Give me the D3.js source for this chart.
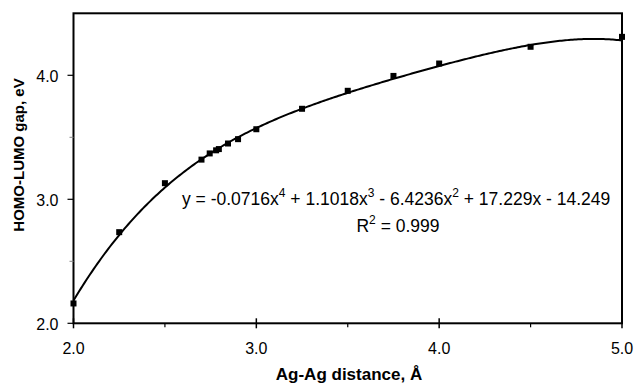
<!DOCTYPE html>
<html><head><meta charset="utf-8">
<script src="https://cdn.jsdelivr.net/npm/d3@7"></script>
<style>
html,body{margin:0;padding:0;background:#fff;}
svg{display:block;font-family:"Liberation Sans",Arial,sans-serif;}
</style></head>
<body>
<svg id="chart" width="635" height="385"></svg>
<script>
// Data
const distances = [2.0, 2.25, 2.5, 2.7, 2.745, 2.78, 2.795, 2.845, 2.9, 3.0, 3.25, 3.5, 3.75, 4.0, 4.5, 5.0];
const gaps      = [2.16, 2.735, 3.13, 3.32, 3.37, 3.395, 3.405, 3.45, 3.485, 3.565, 3.73, 3.875, 3.995, 4.095, 4.23, 4.31];
// Trendline coefficients as printed (x^4, x^3, x^2, x, const)
const trendCoefs = [-0.0716, 1.1018, -6.4236, 17.229, -14.249];
const xMajorTicks = [2.0, 3.0, 4.0, 5.0];
const xMinorTicks = [2.5, 3.5, 4.5];
const yMajorTicks = [2.0, 3.0, 4.0];
const yMinorTicks = [2.5, 3.5];
const xTitle = "Ag-Ag distance, Å";
const yTitle = "HOMO-LUMO gap, eV";

const svg = d3.select("#chart");
const L = 73.5, R = 622, T = 13.3, B = 323.3;
const x = d3.scaleLinear().domain([2, 5]).range([L, R]);
const y = d3.scaleLinear().domain([2, 4.5]).range([B, T]);

// Frame
svg.append("rect").attr("x", L).attr("y", T).attr("width", R - L).attr("height", B - T)
  .attr("fill", "none").attr("stroke", "#000").attr("stroke-width", 2);

// X axis ticks and labels
const gx = svg.append("g");
gx.selectAll("line.maj").data(xMajorTicks).join("line")
  .attr("x1", d => x(d)).attr("x2", d => x(d)).attr("y1", B - 5).attr("y2", B + 5)
  .attr("stroke", "#000").attr("stroke-width", 1.5);
gx.selectAll("line.min").data(xMinorTicks).join("line")
  .attr("x1", d => x(d)).attr("x2", d => x(d)).attr("y1", B).attr("y2", B + 4)
  .attr("stroke", "#000").attr("stroke-width", 1.2);
gx.selectAll("text").data(xMajorTicks).join("text")
  .attr("x", d => x(d)).attr("y", 354).attr("text-anchor", "middle")
  .attr("font-size", 16).text(d => d3.format(".1f")(d));

// Y axis ticks and labels
const gy = svg.append("g");
gy.selectAll("line.maj").data(yMajorTicks).join("line")
  .attr("x1", L - 6).attr("x2", L).attr("y1", d => y(d)).attr("y2", d => y(d))
  .attr("stroke", "#000").attr("stroke-width", 1.2);
gy.selectAll("line.min").data(yMinorTicks).join("line")
  .attr("x1", L - 4).attr("x2", L).attr("y1", d => y(d)).attr("y2", d => y(d))
  .attr("stroke", "#888").attr("stroke-width", 1);
gy.selectAll("text").data(yMajorTicks).join("text")
  .attr("x", 58.5).attr("y", d => y(d) + 6.5).attr("text-anchor", "end")
  .attr("font-size", 16).text(d => d3.format(".1f")(d));

// Titles
svg.append("text").attr("x", 349).attr("y", 380).attr("text-anchor", "middle")
  .attr("font-size", 17).attr("font-weight", "bold").text(xTitle);
svg.append("text").attr("transform", "translate(24,155) rotate(-90)").attr("text-anchor", "middle")
  .attr("font-size", 15).attr("font-weight", "bold").text(yTitle);

// Trendline
const poly = v => trendCoefs.reduce((acc, c) => acc * v + c, 0);
const xs = d3.range(0, 301).map(i => 2 + i * 0.01);
svg.append("path").datum(xs)
  .attr("d", d3.line().x(d => x(d)).y(d => y(poly(d))).curve(d3.curveLinear))
  .attr("fill", "none").attr("stroke", "#000").attr("stroke-width", 2);

// Markers
svg.selectAll("rect.pt").data(distances).join("rect").attr("class", "pt")
  .attr("x", (d) => x(d) - 3).attr("y", (d, i) => y(gaps[i]) - 3)
  .attr("width", 6).attr("height", 6).attr("fill", "#000");

// Equation text
const FS = 17.5, SS = 12;
const eq = svg.append("text").attr("x", 182).attr("y", 205).attr("font-size", FS);
const parts = [["y = -0.0716x", false], ["4", true], [" + 1.1018x", false], ["3", true],
  [" - 6.4236x", false], ["2", true], [" + 17.229x - 14.249", false]];
parts.forEach(([t, sup], i) => {
  eq.append("tspan").attr("font-size", sup ? SS : FS).attr("dy", sup ? -8 : (i === 0 ? 0 : 8)).text(t);
});
const r2 = svg.append("text").attr("x", 398).attr("y", 232).attr("text-anchor", "middle").attr("font-size", FS);
r2.append("tspan").text("R");
r2.append("tspan").attr("font-size", SS).attr("dy", -8).text("2");
r2.append("tspan").attr("dy", 8).text(" = 0.999");
</script>
</body></html>
